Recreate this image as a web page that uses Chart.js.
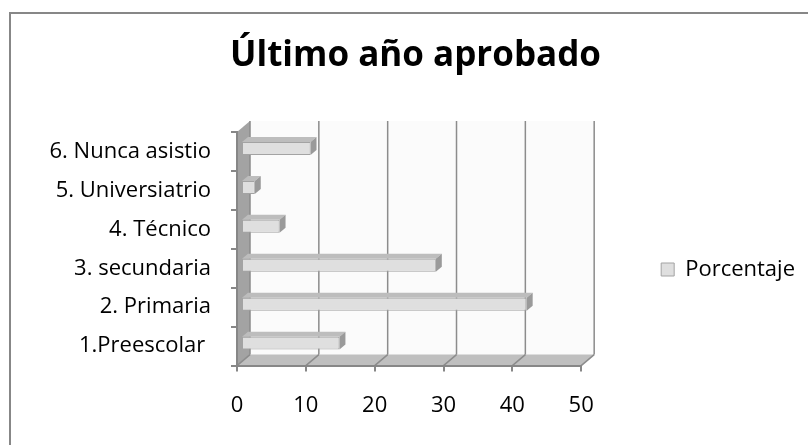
<!DOCTYPE html>
<html>
<head>
<meta charset="utf-8">
<script src="https://cdn.jsdelivr.net/npm/chart.js@4/dist/chart.umd.min.js"></script>
<style>
  body { margin: 0; background: #fff; }
  #wrap { width: 808px; height: 445px; }
</style>
</head>
<body>
<div id="wrap"><canvas id="grafico" width="808" height="445"></canvas></div>
<script>
// datos
const categorias = ['1.Preescolar ', '2. Primaria', '3. secundaria', '4. Técnico', '5. Universiatrio', '6. Nunca asistio'];
const porcentaje = [14.3, 41.5, 28.3, 5.6, 2.0, 10.1];
const ticksX = [0, 10, 20, 30, 40, 50];

const FUENTE = '"Open Sans", "Noto Sans", sans-serif';
const GRIS = '#878787';

// profundidad del "3D"
const DX = 13, DY = -11;     // pared del fondo
const BX = 4, BY = -3;       // cara frontal de las barras
const PX = 6, PY = -5;       // grosor de las barras

const efecto3d = {
  id: 'efecto3d',
  beforeDraw(chart) {
    const { ctx, chartArea: a, scales: { x } } = chart;
    ctx.save();
    // marco exterior
    ctx.strokeStyle = GRIS;
    ctx.lineWidth = 2;
    ctx.beginPath();
    ctx.moveTo(10, 445);
    ctx.lineTo(10, 13);
    ctx.lineTo(808, 13);
    ctx.stroke();

    // pared lateral
    ctx.fillStyle = '#a3a3a3';
    ctx.beginPath();
    ctx.moveTo(a.left, a.top);
    ctx.lineTo(a.left + DX, a.top + DY);
    ctx.lineTo(a.left + DX, a.bottom + DY);
    ctx.lineTo(a.left, a.bottom);
    ctx.closePath();
    ctx.fill();

    // pared del fondo
    ctx.fillStyle = '#fbfbfb';
    ctx.fillRect(a.left + DX, a.top + DY, a.right - a.left, a.bottom - a.top);

    // piso
    ctx.fillStyle = '#bfbfbf';
    ctx.beginPath();
    ctx.moveTo(a.left, a.bottom);
    ctx.lineTo(a.left + DX, a.bottom + DY);
    ctx.lineTo(a.right + DX, a.bottom + DY);
    ctx.lineTo(a.right, a.bottom);
    ctx.closePath();
    ctx.fill();

    // lineas de division
    ctx.strokeStyle = '#8c8c8c';
    ctx.lineWidth = 1.5;
    x.ticks.forEach(t => {
      const px = x.getPixelForValue(t.value);
      ctx.beginPath();
      ctx.moveTo(px + DX, a.top + DY);
      ctx.lineTo(px + DX, a.bottom + DY);
      ctx.moveTo(px, a.bottom);
      ctx.lineTo(px + DX, a.bottom + DY);
      ctx.stroke();
    });
    ctx.restore();
  },
  beforeDatasetsDraw(chart) {
    chart.ctx.save();
    chart.ctx.translate(BX, BY);
  },
  afterDatasetsDraw(chart) {
    const ctx = chart.ctx;
    chart.getDatasetMeta(0).data.forEach(bar => {
      const top = bar.y - bar.height / 2;
      const bot = bar.y + bar.height / 2;
      // cara superior
      ctx.fillStyle = '#bdbdbd';
      ctx.beginPath();
      ctx.moveTo(bar.base, top);
      ctx.lineTo(bar.base + PX, top + PY);
      ctx.lineTo(bar.x + PX, top + PY);
      ctx.lineTo(bar.x, top);
      ctx.closePath();
      ctx.fill();
      // cara derecha
      ctx.fillStyle = '#9a9a9a';
      ctx.beginPath();
      ctx.moveTo(bar.x, top);
      ctx.lineTo(bar.x + PX, top + PY);
      ctx.lineTo(bar.x + PX, bot + PY);
      ctx.lineTo(bar.x, bot);
      ctx.closePath();
      ctx.fill();
    });
    ctx.restore();
  }
};

new Chart(document.getElementById('grafico'), {
  type: 'bar',
  data: {
    labels: categorias,
    datasets: [{
      label: 'Porcentaje',
      data: porcentaje,
      backgroundColor: '#dfdfdf',
      borderColor: '#a3a3a3',
      borderWidth: 1,
      borderSkipped: false,
      categoryPercentage: 1,
      barPercentage: 0.333
    }]
  },
  options: {
    indexAxis: 'y',
    responsive: false,
    animation: false,
    layout: { padding: { left: 26, right: 3, top: 0, bottom: 5 } },
    plugins: {
      title: {
        display: true,
        text: 'Último año aprobado',
        color: '#000',
        font: { family: FUENTE, size: 35, weight: 'bold' },
        padding: { top: 35, bottom: 55 }
      },
      legend: {
        display: true,
        position: 'right',
        maxWidth: 230,
        title: { display: true, text: ' ', font: { size: 10 }, padding: { top: 87, bottom: 0 } },
        labels: {
          color: '#000',
          font: { family: FUENTE, size: 22 },
          boxWidth: 13,
          boxHeight: 13,
          padding: 80
        }
      },
      tooltip: { enabled: false }
    },
    scales: {
      x: {
        min: 0,
        max: 50,
        afterBuildTicks(scale) { scale.ticks = ticksX.map(v => ({ value: v })); },
        grid: { display: true, drawOnChartArea: false, tickLength: 6, color: GRIS, lineWidth: 2 },
        border: { display: true, color: GRIS, width: 2 },
        ticks: { color: '#000', font: { family: FUENTE, size: 22 }, padding: 21 }
      },
      y: {
        reverse: true,
        afterFit(scale) { scale.width = 211; },
        grid: { display: true, drawOnChartArea: false, tickLength: 6, color: GRIS, lineWidth: 2 },
        border: { display: true, color: GRIS, width: 2 },
        ticks: { color: '#000', font: { family: FUENTE, size: 22 }, padding: 20 }
      }
    }
  },
  plugins: [efecto3d]
});
</script>
</body>
</html>
